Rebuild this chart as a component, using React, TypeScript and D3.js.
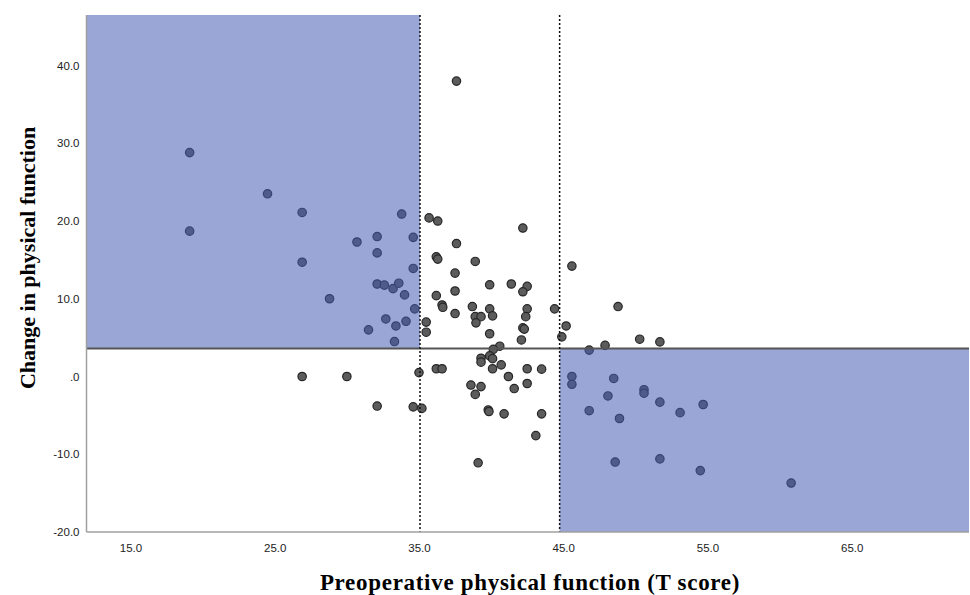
import * as React from 'react';
import * as d3 from 'd3';

const WIDTH = 970;
const HEIGHT = 595;

// preoperative T score (x) and change in physical function (y)
const preop = [
  19.1, 19.1, 24.5, 26.9, 26.9, 26.9, 28.8, 30.0, 30.7, 32.1,
  32.1, 33.8, 34.6, 34.6, 32.1, 32.6, 33.2, 33.6, 34.0, 34.7,
  32.7, 34.1, 33.4, 31.5, 33.3, 32.1, 34.6, 35.0, 35.2, 37.6,
  35.7, 36.3, 42.2, 37.6, 36.2, 36.3, 38.9, 37.5, 37.5, 39.9,
  41.4, 42.5, 42.2, 36.2, 36.6, 36.65, 38.7, 39.9, 42.5, 44.4,
  37.5, 38.9, 39.3, 40.1, 42.4, 35.5, 38.95, 35.5, 42.2, 42.3,
  39.9, 42.1, 44.9, 40.6, 40.15, 39.9, 39.3, 40.1, 39.3, 40.7,
  40.1, 36.2, 36.6, 42.5, 43.5, 41.2, 42.5, 41.6, 38.6, 39.3,
  38.9, 39.8, 39.85, 40.9, 43.5, 43.1, 39.1, 45.6, 45.2, 48.8,
  50.3, 47.9, 46.8, 51.7, 45.6, 45.6, 48.5, 48.1, 46.8, 48.9,
  50.6, 50.6, 48.6, 51.7, 53.1, 54.7, 51.7, 54.5, 60.8,
];
const change = [
  28.8, 18.7, 23.5, 21.1, 14.7, 0.0, 10.0, 0.0, 17.3, 18.0,
  15.9, 20.9, 17.9, 13.9, 11.9, 11.75, 11.3, 12.0, 10.5, 8.7,
  7.4, 7.1, 6.5, 6.0, 4.5, -3.8, -3.9, 0.5, -4.1, 38.0,
  20.4, 20.0, 19.1, 17.1, 15.4, 15.1, 14.8, 13.3, 11.0, 11.8,
  11.9, 11.6, 10.9, 10.4, 9.2, 8.9, 9.0, 8.7, 8.7, 8.7,
  8.1, 7.7, 7.7, 7.8, 7.7, 7.0, 6.9, 5.7, 6.25, 6.1,
  5.5, 4.7, 5.1, 3.9, 3.5, 2.65, 2.35, 2.3, 1.85, 1.5,
  1.0, 1.0, 1.0, 1.0, 0.95, 0.0, -0.9, -1.55, -1.1, -1.3,
  -2.3, -4.3, -4.5, -4.8, -4.8, -7.6, -11.1, 14.2, 6.5, 9.0,
  4.8, 4.0, 3.4, 4.45, 0.0, -1.0, -0.25, -2.5, -4.4, -5.4,
  -1.7, -2.15, -11.0, -3.3, -4.65, -3.6, -10.6, -12.1, -13.7,
];

const xTicks = [15, 25, 35, 45, 55, 65];
const yTicks = [-20, -10, 0, 10, 20, 30, 40];
const xCuts = [35.07, 44.75];
const yCut = 3.6;

const xTitle = 'Preoperative physical function (T score)';
const yTitle = 'Change in physical function';

// SPSS style: ".0" for zero, plain hyphen for negatives
const fmt = (d: number) => (d === 0 ? '.0' : d.toFixed(1));

export default function App() {
  const ref = React.useRef<SVGSVGElement>(null);

  React.useEffect(() => {
    const svg = d3.select(ref.current);
    svg.selectAll('*').remove();

    const x = d3.scaleLinear().domain([11.95, 73.13]).range([86.5, 969]);
    const y = d3.scaleLinear().domain([-20, 46.5]).range([532, 15]);

    const pts = preop.map((v, i) => ({ x: v, y: change[i] }));

    // points first, the translucent quadrants go over them
    svg
      .append('g')
      .selectAll('circle')
      .data(pts)
      .enter()
      .append('circle')
      .attr('cx', d => x(d.x))
      .attr('cy', d => y(d.y))
      .attr('r', 4.2)
      .attr('fill', '#5c5c5c')
      .attr('stroke', '#262626')
      .attr('stroke-width', 1.2);

    const [x0, x1] = x.domain();
    const [y0, y1] = y.domain();
    const quads = [
      { xa: x0, xb: xCuts[0], ya: yCut, yb: y1 },
      { xa: xCuts[1], xb: x1, ya: y0, yb: yCut },
    ];
    svg
      .append('g')
      .selectAll('rect')
      .data(quads)
      .enter()
      .append('rect')
      .attr('x', d => x(d.xa))
      .attr('y', d => y(d.yb))
      .attr('width', d => x(d.xb) - x(d.xa))
      .attr('height', d => y(d.ya) - y(d.yb))
      .attr('fill', '#445ab3')
      .attr('fill-opacity', 0.54);

    svg
      .append('line')
      .attr('x1', x(x0))
      .attr('x2', x(x1))
      .attr('y1', y(yCut))
      .attr('y2', y(yCut))
      .attr('stroke', '#555')
      .attr('stroke-width', 2);

    svg
      .append('g')
      .selectAll('line')
      .data(xCuts)
      .enter()
      .append('line')
      .attr('x1', d => x(d))
      .attr('x2', d => x(d))
      .attr('y1', y(y1))
      .attr('y2', y(y0))
      .attr('stroke', '#111')
      .attr('stroke-width', 1.5)
      .attr('stroke-dasharray', '2,2');

    // axes: plain lines, labels without tick marks
    const xAxis = svg
      .append('g')
      .attr('transform', `translate(0,${y(y0)})`)
      .call(d3.axisBottom(x).tickValues(xTicks).tickSize(0).tickPadding(12).tickFormat(fmt as any));
    const yAxis = svg
      .append('g')
      .attr('transform', `translate(${x(x0)},0)`)
      .call(d3.axisLeft(y).tickValues(yTicks).tickSize(0).tickPadding(7).tickFormat(fmt as any));

    [xAxis, yAxis].forEach(g => {
      g.select('.domain').attr('stroke', '#a0a0a0').attr('stroke-width', 1.5);
      g.selectAll('text')
        .attr('fill', '#222')
        .style('font-family', '"Liberation Sans", Arial, sans-serif')
        .style('font-size', '11.5px');
    });
    yAxis.select('.domain').attr('d', `M0,${y(y1)}V${y(y0)}`);
    xAxis.select('.domain').attr('d', `M${x(x0)},0H${x(x1)}`);

    svg
      .append('text')
      .attr('x', 530)
      .attr('y', 590)
      .attr('text-anchor', 'middle')
      .style('font-family', '"Liberation Serif", "Times New Roman", serif')
      .style('font-weight', 'bold')
      .style('font-size', '23px')
      .style('letter-spacing', '0.7px')
      .text(xTitle);

    svg
      .append('text')
      .attr('transform', `translate(35,258) rotate(-90)`)
      .attr('text-anchor', 'middle')
      .style('font-family', '"Liberation Serif", "Times New Roman", serif')
      .style('font-weight', 'bold')
      .style('font-size', '22px')
      .text(yTitle);
  }, []);

  return (
    <svg
      ref={ref}
      width={WIDTH}
      height={HEIGHT}
      style={{ position: 'absolute', left: 0, top: 0, background: '#fff' }}
    />
  );
}
